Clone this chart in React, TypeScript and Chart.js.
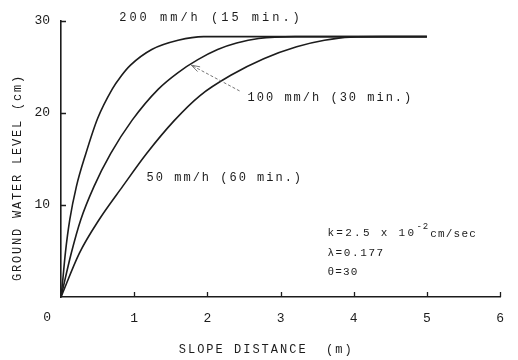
import React, { useEffect, useRef } from 'react';
import { Chart, registerables } from 'chart.js';

Chart.register(...registerables);

// ---- data ----
const curve200X = [0, 0.02, 0.06, 0.12, 0.21, 0.34, 0.5, 0.7, 0.82, 0.95, 1.24, 1.6, 1.95, 2.5, 3.5, 5.0];
const curve200Y = [0, 1.5, 4.8, 8.4, 12.0, 15.6, 19.4, 22.6, 24.0, 25.2, 26.9, 27.9, 28.3, 28.3, 28.3, 28.3];

const curve100X = [0, 0.14, 0.27, 0.45, 0.68, 0.97, 1.33, 1.6, 1.87, 2.14, 2.4, 2.7, 3.2, 4.0, 5.0];
const curve100Y = [0, 4.75, 8.4, 12.0, 15.6, 19.2, 22.6, 24.4, 25.8, 26.9, 27.6, 28.1, 28.3, 28.3, 28.3];

const curve50X = [0, 0.25, 0.52, 0.84, 1.17, 1.55, 1.9, 2.32, 2.77, 3.22, 3.6, 3.95, 4.4, 5.0];
const curve50Y = [0, 4.75, 8.4, 12.0, 15.6, 19.2, 21.9, 24.1, 25.9, 27.2, 27.9, 28.25, 28.3, 28.3];

const xTickValues = [0, 1, 2, 3, 4, 5, 6];
const yTickValues = [0, 10, 20, 30];

const curveLabels = ['200 mm/h (15 min.)', '100 mm/h (30 min.)', '50 mm/h (60 min.)'];
const xAxisTitle = 'SLOPE DISTANCE  (m)';
const yAxisTitle = 'GROUND WATER LEVEL (cm)';
const paramLines = ['k=2.5 x 10', '-2', 'cm/sec', 'λ=0.177', 'θ=30'];

const FONT = "'Liberation Mono', 'DejaVu Sans Mono', monospace";
const INK = '#1c1c1c';

function toPoints(xs: number[], ys: number[]) {
  return xs.map((x, i) => ({ x, y: ys[i] }));
}

function drawSpaced(ctx: CanvasRenderingContext2D, text: string, x: number, y: number, spacing: number) {
  let cx = x;
  for (const ch of text) {
    ctx.fillText(ch, cx, y);
    cx += ctx.measureText(ch).width + spacing;
  }
  return cx;
}

function spacedWidth(ctx: CanvasRenderingContext2D, text: string, spacing: number) {
  let w = 0;
  const chars = Array.from(text);
  chars.forEach((ch, i) => {
    w += ctx.measureText(ch).width + (i < chars.length - 1 ? spacing : 0);
  });
  return w;
}

const overlayPlugin = {
  id: 'overlay',
  afterDraw(chart: any) {
    const { ctx, scales } = chart;
    const xs = scales.x;
    const ys = scales.y;
    ctx.save();

    // inward tick marks
    ctx.strokeStyle = INK;
    ctx.lineWidth = 1.3;
    ctx.beginPath();
    yTickValues.forEach((v) => {
      if (v === 0) return;
      const py = Math.round(ys.getPixelForValue(v)) + 0.5;
      ctx.moveTo(xs.left, py);
      ctx.lineTo(xs.left + 5, py);
    });
    xTickValues.forEach((v) => {
      if (v === 0) return;
      const px = Math.round(xs.getPixelForValue(v)) + 0.5;
      ctx.moveTo(px, ys.bottom);
      ctx.lineTo(px, ys.bottom - 5);
    });
    ctx.stroke();

    ctx.fillStyle = INK;
    ctx.textBaseline = 'middle';

    // shared origin label "0"
    ctx.font = `13px ${FONT}`;
    ctx.textAlign = 'right';
    ctx.fillText('0', ys.right - 10, ys.bottom + 21);
    ctx.textAlign = 'left';

    // curve labels
    ctx.font = `12px ${FONT}`;
    drawSpaced(ctx, curveLabels[0], xs.getPixelForValue(0.795), ys.getPixelForValue(30.3), 3.0);
    drawSpaced(ctx, curveLabels[1], xs.getPixelForValue(2.55), ys.getPixelForValue(21.6), 2.0);
    drawSpaced(ctx, curveLabels[2], xs.getPixelForValue(1.17), ys.getPixelForValue(13.0), 2.0);

    // arrow to the 100 mm/h curve
    const tx = xs.getPixelForValue(2.44), ty = ys.getPixelForValue(22.4);
    const hx = xs.getPixelForValue(1.78), hy = ys.getPixelForValue(25.2);
    ctx.strokeStyle = '#666';
    ctx.lineWidth = 0.9;
    ctx.setLineDash([3, 2]);
    ctx.beginPath();
    ctx.moveTo(tx, ty);
    ctx.lineTo(hx, hy);
    ctx.stroke();
    ctx.setLineDash([]);
    const ang = Math.atan2(hy - ty, hx - tx);
    const L = 9;
    ctx.beginPath();
    ctx.moveTo(hx - L * Math.cos(ang - 0.3), hy - L * Math.sin(ang - 0.3));
    ctx.lineTo(hx, hy);
    ctx.lineTo(hx - L * Math.cos(ang + 0.3), hy - L * Math.sin(ang + 0.3));
    ctx.stroke();

    // parameter block
    ctx.fillStyle = INK;
    ctx.font = `11px ${FONT}`;
    const ax = xs.getPixelForValue(3.64);
    const ky = ys.getPixelForValue(7.0);
    let cx = drawSpaced(ctx, paramLines[0], ax, ky, 2.3);
    ctx.font = `9px ${FONT}`;
    cx = drawSpaced(ctx, paramLines[1], cx, ky - 6, 1.0);
    ctx.font = `11px ${FONT}`;
    drawSpaced(ctx, paramLines[2], cx + 1, ky + 1, 1.2);
    drawSpaced(ctx, paramLines[3], ax, ys.getPixelForValue(4.8), 1.6);
    drawSpaced(ctx, paramLines[4], ax, ys.getPixelForValue(2.7), 1.2);

    // axis titles
    ctx.font = `12px ${FONT}`;
    const xtW = spacedWidth(ctx, xAxisTitle, 2.0);
    drawSpaced(ctx, xAxisTitle, xs.getPixelForValue(2.79) - xtW / 2, ys.bottom + 53, 2.0);

    const ytW = spacedWidth(ctx, yAxisTitle, 1.8);
    ctx.translate(18, ys.getPixelForValue(12.9));
    ctx.rotate(-Math.PI / 2);
    drawSpaced(ctx, yAxisTitle, -ytW / 2, 0, 1.8);

    ctx.restore();
  },
};

export default function App() {
  const ref = useRef<HTMLCanvasElement | null>(null);

  useEffect(() => {
    if (!ref.current) return;
    document.body.style.margin = '0';
    const lineStyle = {
      borderColor: INK,
      borderWidth: 1.6,
      pointRadius: 0,
      fill: false,
      cubicInterpolationMode: 'monotone' as const,
    };
    const chart = new Chart(ref.current, {
      type: 'line',
      data: {
        datasets: [
          { label: curveLabels[0], data: toPoints(curve200X, curve200Y), ...lineStyle },
          { label: curveLabels[1], data: toPoints(curve100X, curve100Y), ...lineStyle },
          { label: curveLabels[2], data: toPoints(curve50X, curve50Y), ...lineStyle },
        ],
      },
      options: {
        animation: false,
        responsive: false,
        events: [],
        layout: { padding: { left: 0, right: 12, top: 21, bottom: 0 } },
        plugins: {
          legend: { display: false },
          tooltip: { enabled: false },
        },
        scales: {
          x: {
            type: 'linear',
            min: 0,
            max: 6,
            afterFit: (s: any) => {
              s.height = 63;
            },
            afterBuildTicks: (s: any) => {
              s.ticks = xTickValues.map((v) => ({ value: v }));
            },
            grid: { display: true, drawOnChartArea: false, drawTicks: false },
            border: { display: true, color: INK, width: 1.6 },
            ticks: {
              padding: 14,
              color: INK,
              font: { family: FONT, size: 13 },
              callback: (v: any) => (Number(v) === 0 ? '' : String(v)),
            },
          },
          y: {
            type: 'linear',
            min: 0,
            max: 30,
            afterFit: (s: any) => {
              s.width = 61;
            },
            afterBuildTicks: (s: any) => {
              s.ticks = yTickValues.map((v) => ({ value: v }));
            },
            grid: { display: true, drawOnChartArea: false, drawTicks: false },
            border: { display: true, color: INK, width: 1.6 },
            ticks: {
              padding: 11,
              color: INK,
              font: { family: FONT, size: 13 },
              callback: (v: any) => (Number(v) === 0 ? '' : String(v)),
            },
          },
        },
      },
      plugins: [overlayPlugin],
    } as any);
    return () => chart.destroy();
  }, []);

  return (
    <div style={{ position: 'fixed', left: 0, top: 0, width: 518, height: 360, background: '#fff' }}>
      <canvas ref={ref} width={518} height={360} style={{ display: 'block' }} />
    </div>
  );
}
